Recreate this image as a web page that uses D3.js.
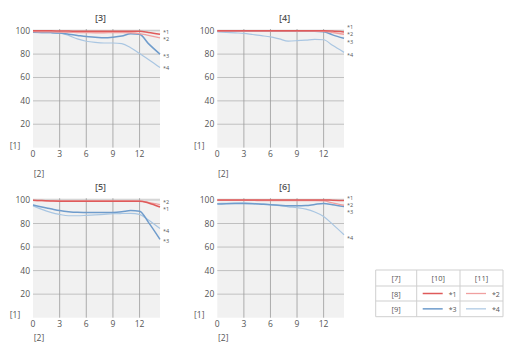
<!DOCTYPE html>
<html><head><meta charset="utf-8">
<script src="https://cdn.jsdelivr.net/npm/d3@7"></script>
<style>body{margin:0;background:#fff}svg{display:block}text{font-family:"Open Sans",sans-serif;fill:#555}</style>
</head><body><svg id="c" width="521" height="356"></svg>
<script>
const xs = [0, 1, 2, 3, 4, 5, 6, 7, 8, 9, 10, 11, 12, 13, 14.3];
const panelTitles = ["[3]", "[4]", "[5]", "[6]"];
const seriesNames = ["*1", "*2", "*3", "*4"];
const xTicks = [0, 3, 6, 9, 12];
const yTicks = [20, 40, 60, 80, 100];
// panel [3]
const p3s1 = [100, 100, 100, 99.8, 99.7, 99.6, 99.5, 99.5, 99.5, 99.5, 99.6, 99.6, 99.5, 98.5, 97];
const p3s2 = [99.2, 99, 99, 98.8, 98.6, 98.5, 98.4, 98.3, 98.3, 98.4, 98.4, 98.3, 97.6, 96, 94];
const p3s3 = [98.8, 98.6, 98.4, 98, 97, 96, 95, 94.5, 94, 94.5, 95.5, 97.5, 97, 89, 80];
const p3s4 = [98.5, 98.4, 98.3, 98, 96, 93, 91, 90, 89.5, 89.5, 89, 85.5, 80.5, 75.5, 68.5];
// panel [4]
const p4s1 = [100, 100, 100, 100, 100, 100, 100, 100, 100, 100, 100, 100, 100, 99.7, 99];
const p4s2 = [99.6, 99.6, 99.6, 99.6, 99.6, 99.6, 99.6, 99.6, 99.6, 99.6, 99.6, 99.6, 99.4, 98.5, 97];
const p4s3 = [99.5, 99.5, 99.5, 99.5, 99.5, 99.5, 99.5, 99.5, 99.5, 99.5, 99.5, 99.5, 99.2, 96.5, 93.5];
const p4s4 = [99, 98.6, 98.2, 97.8, 96.8, 95.8, 94.7, 93, 91.2, 91.5, 92, 92.6, 92.3, 87.5, 81.5];
// panel [5]
const p5s1 = [99.8, 99.5, 99.2, 99, 99, 99, 99, 99, 99, 99, 99, 99, 99, 97.5, 94];
const p5s2 = [99.6, 99.4, 99.3, 99.2, 99.2, 99.2, 99.2, 99.2, 99.2, 99.2, 99.2, 99.2, 99.1, 98, 96];
const p5s3 = [95.7, 94, 92.5, 91, 90, 89.5, 89.4, 89.3, 89.3, 89.4, 90, 91, 90.5, 81, 66.5];
const p5s4 = [95, 92, 89.5, 87.7, 86.6, 86.6, 86.9, 87.3, 87.8, 88.3, 88.5, 88.6, 87.7, 83, 75.7];
// panel [6]
const p6s1 = [100, 100, 100, 100, 100, 100, 100, 100, 100, 100, 100, 100, 100, 99.8, 99.5];
const p6s2 = [99.6, 99.6, 99.6, 99.6, 99.6, 99.5, 99.5, 99.5, 99.5, 99.5, 99.5, 99.5, 99.3, 97.5, 95.5];
const p6s3 = [96.5, 96.7, 96.9, 97, 96.8, 96.4, 96, 95.5, 95, 95, 95.2, 96.2, 97, 96, 94.5];
const p6s4 = [97, 97.2, 97.4, 97.5, 97.2, 96.6, 96, 95.2, 94.2, 93.4, 92.2, 89.8, 86, 79.5, 70.5];
const panelData = [[p3s1, p3s2, p3s3, p3s4], [p4s1, p4s2, p4s3, p4s4], [p5s1, p5s2, p5s3, p5s4], [p6s1, p6s2, p6s3, p6s4]];
// end-label positions (value units) for *1..*4
const labelY = [[99.0, 92.6, 78.4, 68.1], [102.8, 96.8, 90.8, 79.2], [92.3, 98.3, 65, 73.5], [101.7, 95.7, 89.8, 67.3]];
const legendHead = ["[7]", "[10]", "[11]"];
const legendRows = ["[8]", "[9]"];

const colors = ["#df5a5a", "#f0a0a0", "#6f9ccc", "#a9c6e2"];
const widths = [1.5, 1.3, 1.5, 1.2];

const svg = d3.select("#c");
const cols = [[33, 160], [217.3, 344]];
const rows = [[147.6, 29], [317.7, 198.2]];
const rowLab = [{u1: -2, u2: 26}, {u1: -3, u2: 20}];
const panels = [[0, 0], [1, 0], [0, 1], [1, 1]];

panels.forEach(([ci, ri], pi) => {
  const x = d3.scaleLinear().domain([0, 14.3]).range(cols[ci]);
  const y = d3.scaleLinear().domain([0, 101.5]).range(rows[ri]);
  const g = svg.append("g");
  g.append("rect").attr("x", x(0)).attr("y", y(101.5)).attr("width", x(14.3) - x(0)).attr("height", y(0) - y(101.5)).attr("fill", "#f1f1f1");
  g.selectAll(".hg").data(yTicks).join("line")
    .attr("x1", x(0)).attr("x2", x(14.3)).attr("y1", d => y(d)).attr("y2", d => y(d))
    .attr("stroke", "#b4b4b4").attr("stroke-width", 0.8);
  g.selectAll(".vg").data(xTicks.filter(d => d > 0)).join("line")
    .attr("x1", d => x(d)).attr("x2", d => x(d)).attr("y1", y(0)).attr("y2", y(101.5))
    .attr("stroke", "#9a9a9a").attr("stroke-width", 0.8);
  g.selectAll(".yt").data(yTicks).join("text")
    .attr("x", x(0) - 3).attr("y", d => y(d) + 3).attr("text-anchor", "end")
    .attr("font-size", 8.5).text(d => d);
  g.selectAll(".xt").data(xTicks).join("text")
    .attr("x", d => x(d)).attr("y", y(0) + 9.5).attr("text-anchor", "middle")
    .attr("font-size", 8.5).text(d => d);
  g.append("text").attr("x", x(0) - 18).attr("y", y(0) + rowLab[ri].u1 + 3).attr("text-anchor", "middle").attr("font-size", 8.5).text("[1]");
  g.append("text").attr("x", x(0) + 6).attr("y", y(0) + rowLab[ri].u2 + 3).attr("text-anchor", "middle").attr("font-size", 8.5).text("[2]");
  g.append("text").attr("x", (x(0) + x(14.3)) / 2 + 4).attr("y", y(101.5) - 8).attr("text-anchor", "middle").attr("font-size", 9).attr("font-weight", 600).text(panelTitles[pi]);
  const line = d3.line().x((d, i) => x(xs[i])).y(d => y(d)).curve(d3.curveMonotoneX);
  [3, 2, 1, 0].forEach(si => {
    g.append("path").attr("d", line(panelData[pi][si])).attr("fill", "none")
      .attr("stroke", colors[si]).attr("stroke-width", widths[si]);
  });
  seriesNames.forEach((n, si) => {
    g.append("text").attr("x", x(14.3) + 3).attr("y", y(labelY[pi][si]) + 2).attr("font-size", 5.5).text(n);
  });
});

// legend table
const lx = d3.scaleLinear().domain([0, 1, 2, 3]).range([375.7, 416.7, 460, 503]);
const ly = d3.scaleLinear().domain([0, 1, 2, 3]).range([270, 286, 301, 316.7]);
const lg = svg.append("g");
[0, 1, 2, 3].forEach(i => {
  lg.append("line").attr("x1", lx(0)).attr("x2", lx(3)).attr("y1", ly(i)).attr("y2", ly(i)).attr("stroke", "#cfcfcf");
  lg.append("line").attr("y1", ly(0)).attr("y2", ly(3)).attr("x1", lx(i)).attr("x2", lx(i)).attr("stroke", "#cfcfcf");
});
legendHead.forEach((t, i) => {
  lg.append("text").attr("x", (lx(i) + lx(i + 1)) / 2).attr("y", (ly(0) + ly(1)) / 2 + 3).attr("text-anchor", "middle").attr("font-size", 7.5).text(t);
});
legendRows.forEach((t, r) => {
  lg.append("text").attr("x", (lx(0) + lx(1)) / 2).attr("y", (ly(r + 1) + ly(r + 2)) / 2 + 3).attr("text-anchor", "middle").attr("font-size", 7.5).text(t);
  [0, 1].forEach(c => {
    const si = r * 2 + c;
    const cy = (ly(r + 1) + ly(r + 2)) / 2;
    const x0 = lx(c + 1);
    lg.append("line").attr("x1", x0 + 6).attr("x2", x0 + 26).attr("y1", cy).attr("y2", cy)
      .attr("stroke", colors[si]).attr("stroke-width", widths[si]);
    lg.append("text").attr("x", x0 + 32).attr("y", cy + 3).attr("font-size", 7).text(seriesNames[si]);
  });
});
</script></body></html>
